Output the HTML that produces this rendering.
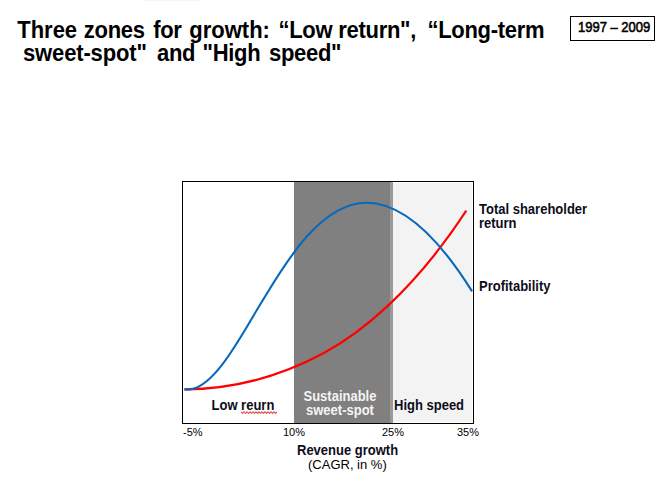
<!DOCTYPE html>
<html><head><meta charset="utf-8"><style>
html,body{margin:0;padding:0;background:#fff;}
body{width:669px;height:504px;position:relative;overflow:hidden;font-family:"Liberation Sans",sans-serif;color:#000;}
.t{position:absolute;white-space:nowrap;}
.title{font-size:22px;font-weight:bold;letter-spacing:-0.3px;line-height:24px;color:#000;transform:scaleY(1.07);transform-origin:0 0;}
#yr{position:absolute;left:570px;top:16px;width:83px;height:23px;border:1px solid #000;}
#yrt{position:absolute;left:7px;top:1.5px;font-size:13px;line-height:14px;white-space:nowrap;transform:scaleY(1.14);transform-origin:0 0;-webkit-text-stroke:0.5px #000;}
.lab{font-size:13px;font-weight:bold;line-height:13px;color:#0d0d1a;transform:scaleY(1.08);transform-origin:0 0;}
.ax{font-size:11px;line-height:12px;}
</style></head><body>
<div class="t title" style="top:18px;left:17.2px;letter-spacing:0">Three</div>
<div class="t title" style="top:18px;left:83.8px">zones</div>
<div class="t title" style="top:18px;left:153.2px">for</div>
<div class="t title" style="top:18px;left:189.3px;letter-spacing:0">growth:</div>
<div class="t title" style="top:18px;left:278.5px">“Low</div>
<div class="t title" style="top:18px;left:338.3px">return",</div>
<div class="t title" style="top:18px;left:427.5px">“Long-term</div>
<div class="t title" style="top:41px;left:23.0px;letter-spacing:-0.15px">sweet-spot"</div>
<div class="t title" style="top:41px;left:157.0px">and</div>
<div class="t title" style="top:41px;left:202.6px">"High</div>
<div class="t title" style="top:41px;left:269.0px">speed"</div>
<div id="yr"><div id="yrt">1997 – 2009</div></div>
<svg width="669" height="504" style="position:absolute;left:0;top:0">
<rect x="144" y="0" width="56" height="1" fill="#f5f5f5"/>
<rect x="294" y="182" width="96" height="241" fill="#808080"/>
<rect x="390" y="182" width="3" height="241" fill="#9a9a9a"/>
<rect x="393" y="183" width="79" height="239" fill="#f3f3f3"/>
<rect x="182.5" y="181.5" width="291" height="242" fill="none" stroke="#000" stroke-width="1"/>
<path d="M184.40,389.30 C242.41,389.29 289.35,371.58 324.33,352.73 C358.38,334.37 412.10,293.59 466.30,210.70" fill="none" stroke="#ff0000" stroke-width="2.2"/>
<path d="M184.40,389.30 C211.85,394.38 240.87,335.60 260.35,304.25 C279.56,273.36 317.34,202.72 366.46,202.72 C396.22,202.72 431.69,226.75 472.10,291.40" fill="none" stroke="#0868bc" stroke-width="2.1"/>
<polyline points="241.0,411.9 242.5,413.4 244.0,411.9 245.5,413.4 247.0,411.9 248.5,413.4 250.0,411.9 251.5,413.4 253.0,411.9 254.5,413.4 256.0,411.9 257.5,413.4 259.0,411.9 260.5,413.4 262.0,411.9 263.5,413.4 265.0,411.9 266.5,413.4 268.0,411.9 269.5,413.4 271.0,411.9 272.5,413.4 274.0,411.9 275.5,413.4 277.0,411.9" fill="none" stroke="#e23a3a" stroke-width="1.1" opacity="0.85"/>
</svg>
<div class="t lab" style="left:479px;top:202px">Total shareholder<br>return</div>
<div class="t lab" style="left:479px;top:279px">Profitability</div>
<div class="t lab" style="left:211.5px;top:398px">Low reurn</div>
<div class="t lab" style="left:303.5px;top:389px;color:#f4f4f4;text-align:center">Sustainable<br>sweet-spot</div>
<div class="t lab" style="left:394px;top:398px">High speed</div>
<div class="t ax" style="left:183px;top:426px">-5%</div>
<div class="t ax" style="left:283px;top:426px">10%</div>
<div class="t ax" style="left:382px;top:426px">25%</div>
<div class="t ax" style="left:457px;top:426px">35%</div>
<div class="t lab" style="left:297px;top:443px">Revenue growth</div>
<div class="t ax" style="left:308px;top:458px;font-size:13px;line-height:14px">(CAGR, in %)</div>
</body></html>
